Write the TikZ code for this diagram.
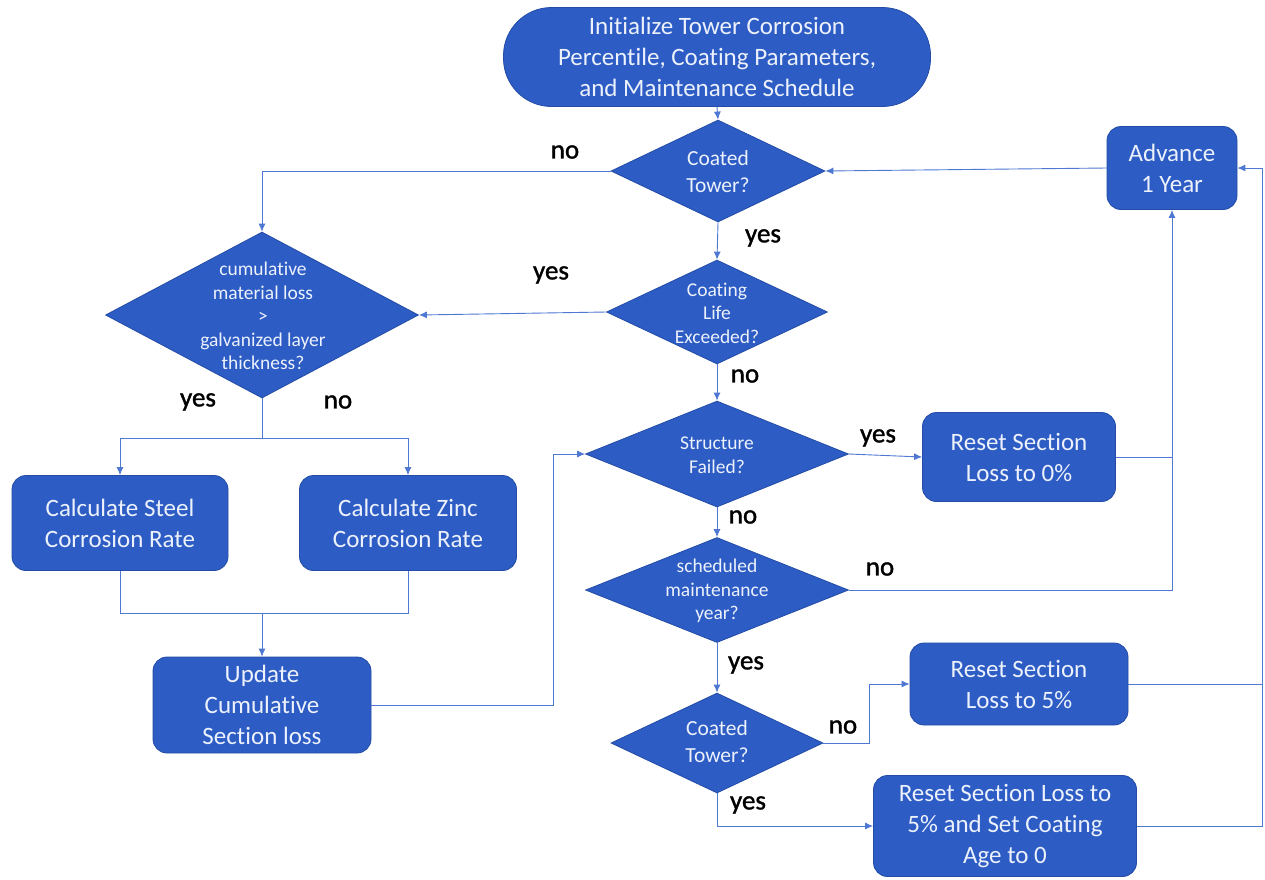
\documentclass[tikz,border=0pt]{standalone}
\usepackage{fontspec}
\setmainfont{Carlito}[Ligatures=NoCommon]
\newfontfamily\lblfont{Carlito}[FakeBold=1.3]
\usetikzlibrary{shapes.geometric,arrows.meta}
\definecolor{boxfill}{RGB}{44,92,196}
\definecolor{boxline}{RGB}{36,76,166}
\definecolor{connc}{RGB}{78,120,210}
\definecolor{boxtext}{RGB}{236,241,252}
\begin{document}
\begin{tikzpicture}[x=1pt,y=-1pt,
 proc/.style={draw=boxline,line width=0.8pt,fill=boxfill,rounded corners=14pt,text=boxtext,align=center,font=\fontsize{25}{31}\selectfont,inner sep=0pt},
 dia/.style={diamond,draw=boxline,line width=0.8pt,fill=boxfill,inner sep=0pt},
 dtext/.style={text=boxtext,align=center,font=\fontsize{19.5}{23.5}\selectfont,inner sep=0pt},
 dtextb/.style={text=boxtext,align=center,font=\fontsize{21.5}{27}\selectfont,inner sep=0pt},
 lbl/.style={text=black,font=\lblfont\fontsize{27}{30}\selectfont,inner sep=0pt},
 conn/.style={draw=connc,line width=0.9pt},
 arr/.style={conn,-{Latex[length=8pt,width=7pt]}}]
\fill[white] (0,0) rectangle (1265,879);
\path[use as bounding box] (0,0) rectangle (1265,879);

% nodes
\node[proc,rounded corners=48pt,minimum width=427pt,minimum height=99pt] (init) at (717,57) {Initialize Tower Corrosion\\Percentile, Coating Parameters,\\and Maintenance Schedule};

\node[dia,minimum width=214pt,minimum height=102pt] (d1) at (718,171) {};
\node[dtextb] (d1t) at (718,172) {Coated\\Tower?};

\node[proc,minimum width=130pt,minimum height=83pt] (adv) at (1172,168) {Advance\\1 Year};

\node[dia,minimum width=221pt,minimum height=104pt] (d2) at (717,312) {};
\node[dtext] (d2t) at (717,313) {Coating\\Life\\Exceeded?};

\node[dia,minimum width=313pt,minimum height=166pt] (d3) at (262,315) {};
\node[dtext] (d3t) at (263,316) {cumulative\\material loss\\{>}\\galvanized layer\\thickness?};

\node[proc,minimum width=216pt,minimum height=95pt] (steel) at (120,523) {Calculate Steel\\Corrosion Rate};
\node[proc,minimum width=217pt,minimum height=95pt] (zinc) at (408,523) {Calculate Zinc\\Corrosion Rate};
\node[proc,minimum width=218pt,minimum height=96pt] (upd) at (262,705) {Update\\Cumulative\\Section loss};

\node[dia,minimum width=263pt,minimum height=106pt] (d4) at (717,454) {};
\node[dtext] (d4t) at (717,455) {Structure\\Failed?};
\node[proc,minimum width=193pt,minimum height=89pt] (r0) at (1019,457) {Reset Section\\Loss to 0\%};

\node[dia,minimum width=263pt,minimum height=105pt] (d5) at (717,590) {};
\node[dtext] (d5t) at (717,591) {scheduled\\maintenance\\year?};

\node[dia,minimum width=212pt,minimum height=100pt] (d6) at (717,743) {};
\node[dtextb] (d6t) at (717,742) {Coated\\Tower?};

\node[proc,minimum width=218pt,minimum height=82pt] (r5) at (1019,684) {Reset Section\\Loss to 5\%};
\node[proc,minimum width=263pt,minimum height=101pt] (rc) at (1005,826) {Reset Section Loss to\\5\% and Set Coating\\Age to 0};

% labels
\node[lbl] (l1) at (565,152) {no};
\node[lbl] (l2) at (763,238) {yes};
\node[lbl] (l3) at (551,275) {yes};
\node[lbl] (l4) at (745,376) {no};
\node[lbl] (l5) at (198,402) {yes};
\node[lbl] (l6) at (338,402) {no};
\node[lbl] (l7) at (878,438) {yes};
\node[lbl] (l8) at (743,517) {no};
\node[lbl] (l9) at (880,569) {no};
\node[lbl] (l10) at (746,665) {yes};
\node[lbl] (l11) at (843,727) {no};
\node[lbl] (l12) at (748,805) {yes};

% helper coordinates
\coordinate (jA) at (262,438);
\coordinate (jB) at (262,613);
\coordinate (rt) at (1262,168);

% connectors
\draw[arr] (init.south) -- (d1.north);
\draw[arr] (d1.south) -- (d2.north);
\draw[arr] (d2.south) -- (d4.north);
\draw[arr] (d4.south) -- (d5.north);
\draw[arr] (d5.south) -- (d6.north);
\draw[arr] (adv.west) -- (d1.east);
\draw[arr] (d1.west) -| (d3.north);
\draw[arr] (d2.west) -- (d3.east);
\draw[conn] (d3.south) -- (jA);
\draw[arr] (jA) -| (steel.north);
\draw[arr] (jA) -| (zinc.north);
\draw[conn] (steel.south) |- (jB);
\draw[conn] (zinc.south) |- (jB);
\draw[arr] (jB) -- (upd.north);
\draw[arr] (upd.east) -- ++(182,0) |- (d4.west);
\draw[arr] (d4.east) -- (r0.west);
\draw[conn] (r0.east) -- (adv.south |- r0.east);
\draw[arr] (d5.east) -| (adv.south);
\draw[arr] (d6.east) -- ++(46,0) |- (r5.west);
\draw[arr] (d6.south) |- (rc.west);
\draw[conn] (r5.east) -- (r5.east -| rt);
\draw[conn] (rc.east) -- (rc.east -| rt) -- (rt);
\draw[arr] (rt) -- (adv.east);
\end{tikzpicture}
\end{document}
